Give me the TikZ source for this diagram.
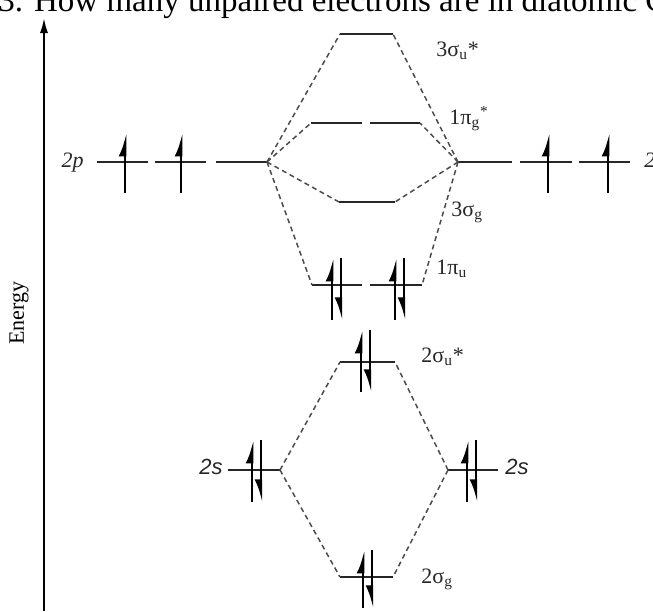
\documentclass[tikz,border=0pt]{standalone}
\usepackage{fontspec}
\setmainfont{Liberation Serif}
\setsansfont{Liberation Sans}
\usetikzlibrary{arrows.meta}
\tikzset{
  levelline/.style={line width=0.9pt, black!85},
  corrline/.style={line width=0.75pt, black!70, dash pattern=on 2.5pt off 1.8pt},
  spinup/.style={line width=1.3pt, -{Latex[left, length=9pt, width=6.5pt]}},
  spindown/.style={line width=1.1pt, -{Latex[right, length=9pt, width=6.5pt]}},
  levellabel/.style={inner sep=0pt, anchor=base west, text=black!85},
  axisarrow/.style={line width=1.3pt, -{Latex[length=8pt, width=4pt]}}
}
% electron pair: x, top, bottom
\newcommand\elpair[3]{%
  \draw[spinup] (#1,#3) -- (#1,#2);
  \draw[spindown] (#1+9,#2) -- (#1+9,#3);}

\begin{document}
\begin{tikzpicture}[x=0.5pt, y=-0.5pt, every node/.style={font=\fontsize{11}{13}\selectfont}]
  \useasboundingbox (0,0) rectangle (653,611);
  \clip (0,0) rectangle (653,611);
  % question header, cut off at the top
  \node[anchor=base west, inner sep=0pt, font=\fontsize{16.5}{19}\selectfont] (head) at (-2,11)
    {3. How many unpaired electrons are in diatomic C};

  % energy axis
  \coordinate (e0) at (44,611);
  \coordinate (e1) at (44,17);
  \draw[axisarrow] (e0) -- (e1);
  \node[rotate=90] (energy) at (19,313) {Energy};

  % atomic orbitals
  \coordinate (pL) at (267,162);
  \coordinate (pR) at (458,162);
  \coordinate (sL) at (280,470);
  \coordinate (sR) at (448,470);
  \draw[levelline] (97,162) -- (148,162) (155,162) -- (206,162) (216,162) -- (pL);
  \draw[levelline] (pR) -- (512,162) (520,162) -- (572,162) (579,162) -- (630,162);
  \draw[levelline] (228,470) -- (sL);
  \draw[levelline] (sR) -- (498,470);

  % molecular orbitals
  \coordinate (su3a) at (340,34);  \coordinate (su3b) at (393,34);
  \coordinate (pg1a) at (311,123); \coordinate (pg1b) at (420,123);
  \coordinate (sg3a) at (339,202); \coordinate (sg3b) at (395,202);
  \coordinate (pu1a) at (312,285); \coordinate (pu1b) at (422,285);
  \coordinate (su2a) at (340,362); \coordinate (su2b) at (395,362);
  \coordinate (sg2a) at (340,577); \coordinate (sg2b) at (393,577);
  \draw[levelline] (su3a) -- (su3b);
  \draw[levelline] (pg1a) -- ++(51,0) (pg1b) -- ++(-50,0);
  \draw[levelline] (sg3a) -- (sg3b);
  \draw[levelline] (pu1a) -- ++(50,0) (pu1b) -- ++(-52,0);
  \draw[levelline] (su2a) -- (su2b);
  \draw[levelline] (sg2a) -- (sg2b);

  % correlation lines
  \foreach \m in {su3a,pg1a,sg3a,pu1a} \draw[corrline] (pL) -- (\m);
  \foreach \m in {su3b,pg1b,sg3b,pu1b} \draw[corrline] (pR) -- (\m);
  \foreach \m in {su2a,sg2a} \draw[corrline] (sL) -- (\m);
  \foreach \m in {su2b,sg2b} \draw[corrline] (sR) -- (\m);

  % electrons
  \foreach \x in {125,181,548,608} \draw[spinup] (\x,193) -- (\x,133);
  \elpair{332}{258}{320}
  \elpair{395}{258}{320}
  \elpair{361}{330}{392}
  \elpair{252}{440}{502}
  \elpair{467}{440}{502}
  \elpair{363}{550}{608}

  % labels
  \node[levellabel, anchor=base east] (l2pL) at (84,167) {\textit{2p}};
  \node[levellabel] (l2pR) at (644,167) {\textit{2p}};
  \node[levellabel, anchor=base east] (l2sL) at (223,474) {\sffamily\itshape 2s};
  \node[levellabel] (l2sR) at (505,474) {\sffamily\itshape 2s};
  \node[levellabel] (lsu3) at (436,56) {3σ\textsubscript{u}*};
  \node[levellabel] (lpg1) at (449,124) {1π\textsubscript{g}\textsuperscript{*}};
  \node[levellabel] (lsg3) at (451,216) {3σ\textsubscript{g}};
  \node[levellabel] (lpu1) at (436,274) {1π\textsubscript{u}};
  \node[levellabel] (lsu2) at (421,362) {2σ\textsubscript{u}*};
  \node[levellabel] (lsg2) at (421,583) {2σ\textsubscript{g}};
\end{tikzpicture}
\end{document}
